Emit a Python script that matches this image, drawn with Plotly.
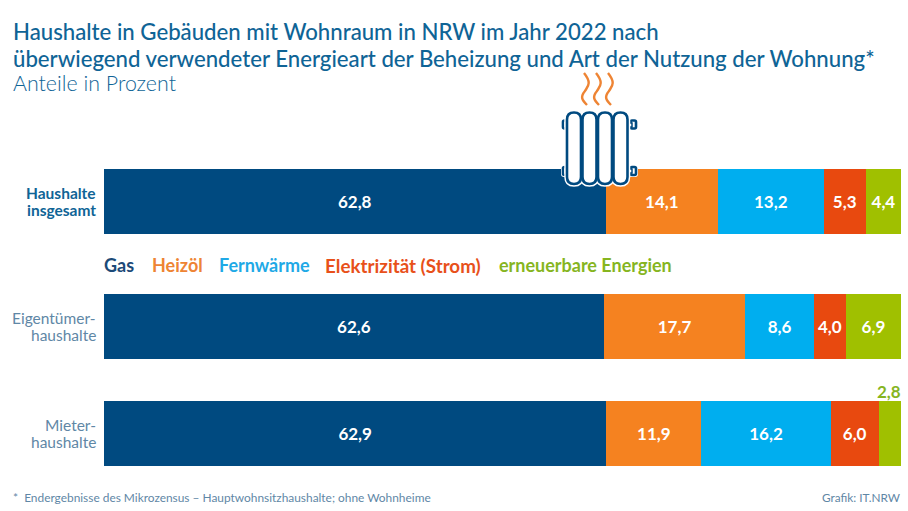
import plotly.graph_objects as go

W, H = 908, 511
FONT = "Lato"

# Shares per household group, in percent
groups = ["Haushalte<br>insgesamt", "Eigentümer-<br>haushalte", "Mieter-<br>haushalte"]
energy = ["Gas", "Heizöl", "Fernwärme", "Elektrizität (Strom)", "erneuerbare Energien"]
gas = [62.8, 62.6, 62.9]
heizoel = [14.1, 17.7, 11.9]
fernwaerme = [13.2, 8.6, 16.2]
strom = [5.3, 4.0, 6.0]
erneuerbar = [4.4, 6.9, 2.8]
series = [gas, heizoel, fernwaerme, strom, erneuerbar]

# Vertical centres of the rows, on a page-height axis
row_y = [201.5, 326.5, 433.5]
bar_h = 65

# Horizontal scale: the stacked total of 99.8 spans from x=104 to x=901 on the page
BAR_LEFT, BAR_RIGHT, TOTAL = 104, 901, 99.8
UNIT = TOTAL / (BAR_RIGHT - BAR_LEFT)


def xd(px):
    return (px - BAR_LEFT) * UNIT


bar_colors = ["#004a80", "#f58220", "#00aeef", "#e8490f", "#a0c000"]
legend_colors = ["#1c4a78", "#ee8434", "#1fa9e6", "#e8501a", "#86b51f"]
legend_x = [104, 152, 219, 325, 499]
legend_size = [18, 18, 18, 18.8, 18]
title_color = "#0f6496"
muted = "#5f87a6"


def fmt(v):
    return f"{v:.1f}".replace(".", ",")


fig = go.Figure()
for name, values, color in zip(energy, series, bar_colors):
    fig.add_trace(go.Bar(
        name=name,
        y=row_y,
        x=values,
        orientation="h",
        width=bar_h,
        marker=dict(color=color, line_width=0),
        text=[fmt(v) if v >= 4 else "" for v in values],
        textposition="inside",
        insidetextanchor="middle",
        textangle=0,
        constraintext="none",
        textfont=dict(family=FONT, size=17, color="white", weight=700),
        hoverinfo="skip",
    ))


def text(x, y, s, size, color, weight=400, anchor="left", align="left"):
    return dict(
        xref="paper", yref="paper", x=x / W, y=1 - y / H, text=s, showarrow=False,
        xanchor=anchor, yanchor="middle", align=align,
        borderpad=0, borderwidth=0,
        font=dict(family=FONT, size=size, color=color, weight=weight),
    )


annotations = [
    text(13, 31, "Haushalte in Gebäuden mit Wohnraum in NRW im Jahr 2022 nach", 22.2, title_color, 500),
    text(13, 58, "überwiegend verwendeter Energieart der Beheizung und Art der Nutzung der Wohnung*", 22.2, title_color, 500),
    text(13, 83, "Anteile in Prozent", 21.4, title_color, 300),
    text(13, 497, "*  Endergebnisse des Mikrozensus – Hauptwohnsitzhaushalte; ohne Wohnheime", 11.9, muted),
    text(901, 497, "Grafik: IT.NRW", 11.8, muted, anchor="right"),
]
# Row labels are set line by line for a tight leading
for i, (label, y) in enumerate(zip(groups, row_y)):
    first, second = label.split("<br>")
    for part, dy in ((first, -8.8), (second, 8.8)):
        annotations.append(text(
            96, y + dy, part, 15.5,
            title_color if i == 0 else muted,
            700 if i == 0 else 400, anchor="right", align="right",
        ))
for name, x, color, size in zip(energy, legend_x, legend_colors, legend_size):
    annotations.append(text(x, 265, name, size, color, 700))
# The slimmest segment carries its value above the bar
annotations.append(text(901, 391, fmt(erneuerbar[2]), 17, legend_colors[4], 700, anchor="right"))


def rounded(x0, y0, x1, y1, r):
    a, b, c, d = xd(x0), xd(x0 + r), xd(x1 - r), xd(x1)
    return (f"M{b},{y0} L{c},{y0} Q{d},{y0} {d},{y0 + r} "
            f"L{d},{y1 - r} Q{d},{y1} {c},{y1} L{b},{y1} "
            f"Q{a},{y1} {a},{y1 - r} L{a},{y0 + r} Q{a},{y0} {b},{y0} Z")


def px_path(d, line=None, fill="white", width=2.6):
    return dict(type="path", xref="x", yref="y", path=d, layer="above",
                fillcolor=fill, line=dict(color=line or "#004a80", width=width))


shapes = []
rad = "#004a80"
ribs = [574, 589.5, 605, 620.5]
# Valve stubs at both ends
for x0, x1 in [(563, 567.5), (630.5, 636)]:
    for y0, y1 in [(120.5, 128.5), (167, 175)]:
        shapes.append(px_path(rounded(x0 - 1, y0 - 1, x1 + 1, y1 + 1, 2), line="white", width=2))
        shapes.append(px_path(rounded(x0, y0, x1, y1, 1.5), line=rad))
# Connectors between the ribs
for y0, y1 in [(123, 127), (169, 173)]:
    shapes.append(px_path(rounded(566, y0, 632, y1, 0), line=rad, width=1.5))
# Radiator ribs, each with a thin white outline against the bar
for cx in ribs:
    shapes.append(px_path(rounded(cx - 7, 112.5, cx + 7, 184, 7), line="white", width=5.5))
for cx in ribs:
    shapes.append(px_path(rounded(cx - 7, 112.5, cx + 7, 184, 7), line=rad))
# Rising heat
for cx in [585, 597, 609]:
    d = (f"M{xd(cx - 1)},73 C{xd(cx + 7)},83 {xd(cx + 3)},86 {xd(cx)},91 "
         f"C{xd(cx - 5)},97 {xd(cx - 3)},100 {xd(cx + 2)},105")
    shapes.append(px_path(d, line="#ee8434", fill="rgba(0,0,0,0)", width=2.4))

fig.update_layout(
    width=W, height=H,
    margin=dict(l=0, r=0, t=0, b=0),
    barmode="stack",
    showlegend=False,
    plot_bgcolor="white",
    paper_bgcolor="white",
    xaxis=dict(domain=[0, 1], range=[xd(0), xd(W)], visible=False, fixedrange=True),
    yaxis=dict(domain=[0, 1], range=[H, 0], visible=False, fixedrange=True),
    annotations=annotations,
    shapes=shapes,
)

fig.write_html("out.html", config={"displayModeBar": False})
